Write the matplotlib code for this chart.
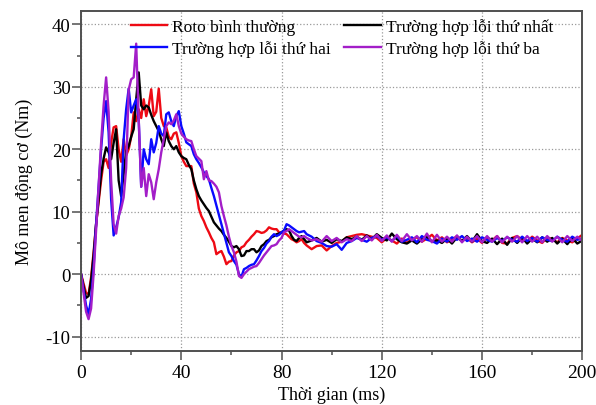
import numpy as np
import matplotlib
matplotlib.use("Agg")
from matplotlib import pyplot as plt
from matplotlib.ticker import MultipleLocator

plt.rcParams['font.family'] = ['Liberation Serif', 'DejaVu Serif']
plt.rcParams['axes.unicode_minus'] = False

# thoi gian (ms): 1 ms trong qua do, 2 ms sau do
t = list(range(0, 91)) + list(range(92, 201, 2))

roto = [0, -1.5, -3.0, -3.2, -0.5, 3.5, 8, 11.5, 15, 18,
        18.4, 17, 21, 23.5, 23.7, 20, 18, 21.6, 19, 20,
        22, 25.9, 24.5, 26.4, 25, 28, 25.3, 27, 29.6, 25.3,
        26, 29.7, 25, 23.7, 23.5, 22, 21.6, 22.5, 22.7, 21,
        18.9, 18, 17.3, 17.3, 17.3, 14.5, 13.1, 10.5, 9.3, 8.5,
        7.5, 6.7, 5.8, 5.1, 3.2, 3.5, 3.7, 2.8, 1.6, 2.0,
        2.1, 3.0, 3.5, 3.7, 4.3, 4.5, 5.1, 5.5, 6.0, 6.4,
        6.9, 6.8, 6.6, 6.7, 7.0, 7.5, 7.3, 7.2, 7.2, 6.7,
        6.6, 6.5, 6.4, 6.0, 5.6, 5.4, 5.1, 5.3, 5.6, 5.0,
        4.6,
        4.0, 4.5, 4.6, 3.8, 4.5, 5.0, 5.2, 5.9, 6.1, 6.3,
        6.4, 6.2, 6.0, 5.8, 5.1, 5.8, 5.4, 4.9, 5.7, 5.0,
        5.6, 5.9, 5.2, 5.7, 6.3, 5.4, 5.9, 5.1, 5.5, 6.1,
        5.3, 5.8, 5.1, 5.7, 5.0, 5.9, 5.4, 6.1, 5.0, 4.9,
        5.8, 6.1, 5.5, 5.2, 6.0, 5.4, 5.0, 5.9, 5.6, 5.1,
        5.8, 5.4, 5.1, 5.7, 6.3]

loi1 = [0, -2, -3.8, -3.5, -1, 3, 8, 12, 16, 18.5,
        20.3, 19.5, 18.4, 21, 23.2, 15, 12.5, 16, 19.7, 20.5,
        22, 23.2, 28, 32.3, 27, 26.4, 27, 26.7, 25.5, 24.5,
        23.7, 22.9, 21.6, 20.5, 22.7, 21.3, 20.5, 20, 20.5, 19.5,
        18.9, 18.6, 18.4, 17.5, 16.8, 15, 13.6, 12.5, 11.8, 11.2,
        10.6, 10.1, 9.2, 8.3, 7.8, 7.3, 6.9, 6.3, 5.8, 5.2,
        4.5, 4.3, 4.5, 4.0, 2.9, 3.0, 3.7, 3.7, 4.0, 4.0,
        3.5, 3.8, 4.5, 4.8, 5.3, 5.5, 5.9, 6.1, 6.4, 6.5,
        6.7, 7.0, 7.2, 7.0, 6.1, 5.5, 5.3, 5.8, 6.1, 5.6,
        5.1,
        5.4, 5.8, 5.2, 5.5, 5.0, 5.6, 5.3, 5.9, 5.6, 6.0,
        5.5, 6.2, 5.6, 6.4, 5.8, 5.4, 6.5, 5.6, 5.1, 4.9,
        5.4, 4.9, 5.6, 6.0, 5.2, 5.4, 5.0, 5.7, 4.9, 5.9,
        5.3, 6.1, 5.2, 6.4, 5.3, 5.0, 5.7, 4.8, 5.7, 4.7,
        5.8, 5.0, 5.9, 4.9, 5.7, 5.1, 5.9, 5.2, 5.8, 4.9,
        5.7, 4.8, 5.8, 4.9, 5.4]

loi2 = [0, -2.5, -5, -6.4, -4, 1, 8, 14, 20, 25,
        27.7, 22.7, 12, 6.2, 7.5, 9.1, 11.5, 21.6, 26.4, 29.7,
        25.9, 27, 28, 24.8, 14, 20, 18.4, 17.6, 21.6, 19.5,
        21, 23.7, 22.5, 22.1, 25.6, 25.9, 24.5, 23.7, 25.3, 26.1,
        23.7, 22.5, 21.1, 20.8, 20.5, 19.2, 18.4, 17.8, 17.1, 16.3,
        15.7, 15.2, 13.8, 12.5, 11, 9.5, 8, 6.5, 5.0, 3.5,
        2.9, 2.1, 1.5, 0.0, -0.4, 0.8, 1.0, 1.3, 1.5, 1.6,
        2.2, 2.9, 3.7, 4.2, 4.9, 5.3, 6.0, 6.4, 6.1, 6.3,
        6.7, 7.0, 8.0, 7.8, 7.5, 7.2, 6.9, 6.7, 6.8, 6.9,
        6.4,
        6.0, 5.3, 5.0, 4.5, 4.4, 4.8, 3.9, 5.0, 5.3, 5.8,
        5.5, 5.2, 5.8, 6.1, 5.5, 5.9, 5.3, 6.1, 5.2, 5.5,
        5.9, 5.1, 6.1, 5.5, 5.3, 4.9, 5.7, 5.2, 5.9, 5.5,
        6.1, 5.3, 5.7, 5.2, 5.9, 5.5, 5.2, 5.8, 5.3, 5.9,
        5.5, 5.2, 6.0, 5.3, 5.8, 5.2, 5.9, 5.5, 5.3, 6.0,
        5.5, 5.2, 6.0, 5.5, 5.7]

loi3 = [0, -3, -6, -7.2, -5.5, 0, 7, 14, 21, 27,
        31.5, 26, 15, 8, 6.5, 9.3, 10.5, 12.3, 17, 29.5,
        31.2, 31.5, 36.9, 24.8, 14, 17, 12.5, 16, 14.7, 12,
        14.7, 16.8, 19.5, 21.6, 23.7, 24.3, 24, 24.6, 25.6, 23.7,
        22.5, 22, 21.6, 21.4, 21.3, 20, 18.9, 18.5, 18.1, 15.2,
        16.5, 15, 14.9, 14.5, 14, 13.1, 10.9, 9.3, 7.8, 6.0,
        4.5, 3.5, 2.0, -0.3, -0.6, 0.0, 0.4, 0.8, 1.0, 1.2,
        1.3, 1.8, 2.4, 3.0, 3.5, 4.0, 4.5, 4.6, 4.8, 5.4,
        5.8, 6.7, 6.9, 7.2, 6.9, 6.6, 6.3, 6.0, 5.9, 6.1,
        5.8,
        5.4, 5.6, 5.2, 6.1, 5.3, 5.8, 5.1, 5.6, 5.3, 6.1,
        5.3, 6.1, 5.4, 6.3, 5.3, 6.2, 5.2, 6.3, 5.3, 6.4,
        5.4, 6.1, 5.2, 6.5, 5.1, 6.3, 5.2, 6.0, 5.2, 6.2,
        5.1, 6.0, 5.2, 6.1, 5.1, 6.1, 5.2, 6.1, 5.1, 6.0,
        5.2, 6.1, 5.1, 6.1, 5.2, 6.0, 5.1, 6.1, 5.2, 6.0,
        5.1, 6.1, 5.3, 6.0, 5.3]

nhan = ['Roto bình thường', 'Trường hợp lỗi thứ nhất',
        'Trường hợp lỗi thứ hai', 'Trường hợp lỗi thứ ba']
mau = ['#ee0a14', '#000000', '#0a0aff', '#a31ec8']

fig = plt.figure(figsize=(5.96, 4.06), dpi=100)
ax = fig.add_axes([0.136, 0.133, 0.841, 0.837])

lines = []
for y, lab, c in zip([roto, loi1, loi2, loi3], nhan, mau):
    l, = ax.plot(t, y, color=c, lw=1.7, label=lab)
    lines.append(l)

ax.set_xlim(0, 200)
ax.set_ylim(-12.3, 42.1)
ax.xaxis.set_major_locator(MultipleLocator(40))
ax.xaxis.set_minor_locator(MultipleLocator(20))
ax.yaxis.set_major_locator(MultipleLocator(10))
ax.yaxis.set_minor_locator(MultipleLocator(5))
ax.tick_params(which='both', direction='out', top=False, right=False,
               color='#505050')
ax.tick_params(axis='x', labelsize=14, pad=3)
ax.tick_params(axis='y', labelsize=13.5, pad=1)
ax.tick_params(which='major', length=6.5, width=1.1)
ax.tick_params(which='minor', length=3.2, width=1.1)
ax.grid(True, which='major', linestyle=':', color='#999999', lw=0.9)
for s in ax.spines.values():
    s.set_color('#505050')
    s.set_linewidth(1.4)

ax.set_xlabel('Thời gian (ms)', fontsize=13, labelpad=3)
ax.set_ylabel('Mô men động cơ (Nm)', fontsize=13, labelpad=9)

# thu tu cot: cot 1 = binh thuong, thu hai; cot 2 = thu nhat, thu ba
leg = ax.legend([lines[0], lines[2], lines[1], lines[3]],
                [nhan[0], nhan[2], nhan[1], nhan[3]],
                ncol=2, frameon=False, fontsize=12.5, loc='upper left',
                bbox_to_anchor=(0.068, 1.025), handlelength=2.1,
                handletextpad=0.3, columnspacing=0.75, labelspacing=0.28)

fig.savefig('out.png', dpi=100)
